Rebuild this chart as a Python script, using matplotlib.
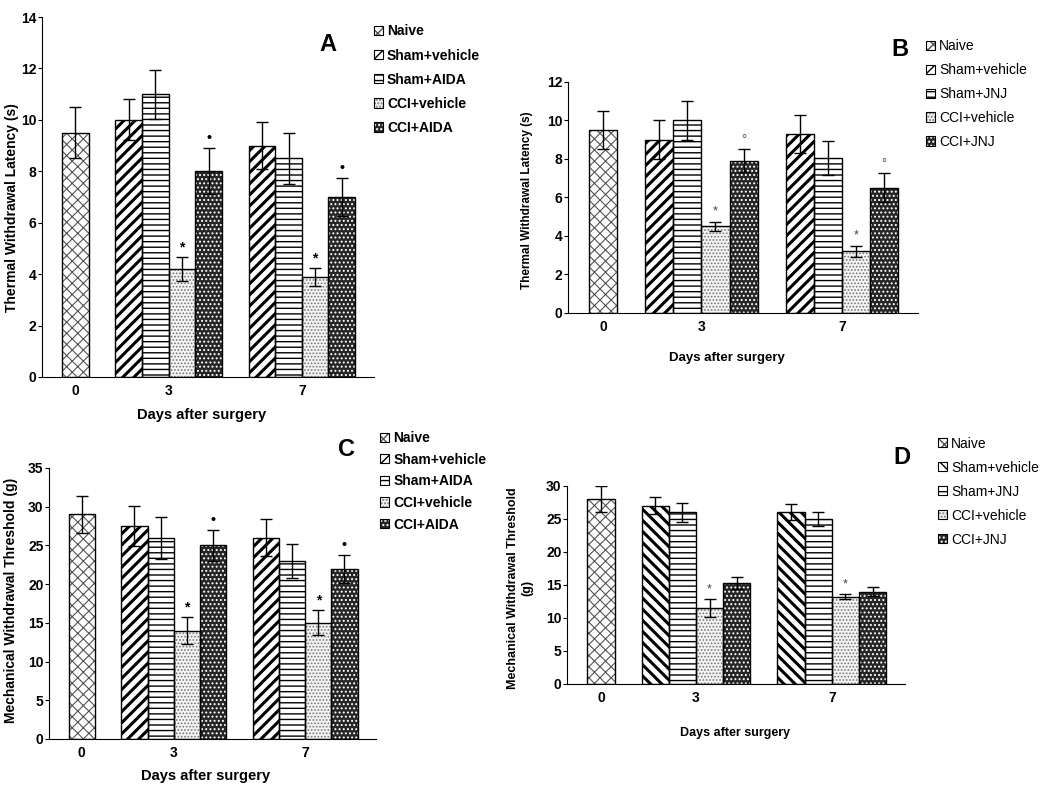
import numpy as np
import matplotlib
matplotlib.use("Agg")
import matplotlib.pyplot as plt
from matplotlib.patches import Patch

plt.rcParams['font.family'] = ['Liberation Sans', 'DejaVu Sans']

# Données (None = pas de barre ce jour-là)
days = ['0', '3', '7']
series_aida = ['Naive', 'Sham+vehicle', 'Sham+AIDA', 'CCI+vehicle', 'CCI+AIDA']
series_jnj = ['Naive', 'Sham+vehicle', 'Sham+JNJ', 'CCI+vehicle', 'CCI+JNJ']

# A : latence thermique, AIDA
thermal_aida_mean = [[9.5, None, None], [None, 10.0, 9.0], [None, 11.0, 8.5],
                     [None, 4.2, 3.9], [None, 8.0, 7.0]]
thermal_aida_err = [[1.0, None, None], [None, 0.8, 0.9], [None, 0.95, 1.0],
                    [None, 0.45, 0.35], [None, 0.9, 0.75]]
thermal_aida_mark = [['', '', ''], ['', '', ''], ['', '', ''],
                     ['', '*', '*'], ['', '•', '•']]

# B : latence thermique, JNJ
thermal_jnj_mean = [[9.5, None, None], [None, 9.0, 9.3], [None, 10.0, 8.05],
                    [None, 4.5, 3.2], [None, 7.9, 6.5]]
thermal_jnj_err = [[1.0, None, None], [None, 1.0, 1.0], [None, 1.0, 0.9],
                   [None, 0.25, 0.3], [None, 0.6, 0.75]]
thermal_jnj_mark = [['', '', ''], ['', '', ''], ['', '', ''],
                    ['', '*', '*'], ['', '°', '°']]

# C : seuil mécanique, AIDA
mech_aida_mean = [[29.0, None, None], [None, 27.5, 26.0], [None, 26.0, 23.0],
                  [None, 14.0, 15.0], [None, 25.0, 22.0]]
mech_aida_err = [[2.4, None, None], [None, 2.6, 2.4], [None, 2.7, 2.2],
                 [None, 1.7, 1.6], [None, 2.0, 1.8]]
mech_aida_mark = [['', '', ''], ['', '', ''], ['', '', ''],
                  ['', '*', '*'], ['', '•', '•']]

# D : seuil mécanique, JNJ
mech_jnj_mean = [[28.0, None, None], [None, 27.0, 26.0], [None, 26.0, 25.0],
                 [None, 11.5, 13.2], [None, 15.3, 14.0]]
mech_jnj_err = [[2.0, None, None], [None, 1.3, 1.2], [None, 1.4, 1.1],
                [None, 1.3, 0.4], [None, 0.85, 0.65]]
mech_jnj_mark = [['', '', ''], ['', '', ''], ['', '', ''],
                 ['', '*', '*'], ['', '', '']]


def make_styles(back):
    # face, hachure, couleur hachure, épaisseur hachure
    return [
        ('white', 'xxx', '#555555', 0.8),
        ('white', '\\\\\\' if back else '///', 'black', 2.2),
        ('white', '---', 'black', 1.0),
        ('#f4f4f4', '.....', '#777777', 0.8),
        ('#262626', '....', 'white', 0.9),
    ]


def hatched_bar(ax, x, h, style):
    face, hatch, hc, hlw = style
    ax.bar(x, h, width=1, color=face, edgecolor='none', zorder=2)
    with plt.rc_context({'hatch.linewidth': hlw}):
        b = ax.bar(x, h, width=1, color='none', edgecolor=hc, hatch=hatch,
                   linewidth=0, zorder=3)
    for p in b:
        if hasattr(p, 'set_hatch_linewidth'):
            p.set_hatch_linewidth(hlw)
    ax.bar(x, h, width=1, fill=False, edgecolor='black', linewidth=1, zorder=4)


def legend_handle(style):
    face, hatch, hc, hlw = style
    base = Patch(facecolor=face, edgecolor='none')
    with plt.rc_context({'hatch.linewidth': min(hlw, 1.0)}):
        hat = Patch(facecolor='none', edgecolor=hc, hatch=hatch, linewidth=0)
    out = Patch(facecolor='none', edgecolor='black', linewidth=0.8)
    return (base, hat, out)


def draw_panel(ax, means, errs, marks, styles, ymax, ystep, mark_bold):
    pos = 0
    centers = []
    for d in range(len(days)):
        xs = []
        for s in range(len(means)):
            h = means[s][d]
            if h is None:
                continue
            hatched_bar(ax, pos, h, styles[s])
            ax.errorbar(pos, h, yerr=errs[s][d], fmt='none', ecolor='black',
                        elinewidth=1, capsize=4, capthick=1, zorder=5)
            if marks[s][d]:
                ax.annotate(marks[s][d], (pos, h + errs[s][d]), xytext=(0, 7),
                            textcoords='offset points', ha='center', va='center',
                            fontsize=10 if mark_bold else 9,
                            fontweight='bold' if mark_bold else 'normal',
                            color='black' if mark_bold else '#444444')
            xs.append(pos)
            pos += 1
        centers.append(np.mean(xs))
        pos += 1
    ax.set_xlim(-1.25, 11.2)
    ax.set_ylim(0, ymax)
    ax.set_yticks(np.arange(0, ymax + 0.1, ystep))
    ax.set_xticks(centers)
    ax.set_xticklabels(days)
    for sp in ['top', 'right']:
        ax.spines[sp].set_visible(False)
    ax.tick_params(axis='x', length=0, pad=5)
    ax.tick_params(axis='y', length=3, pad=1)
    for lab in ax.get_xticklabels() + ax.get_yticklabels():
        lab.set_fontweight('bold')
        lab.set_fontsize(10)


fig = plt.figure(figsize=(10.5, 7.88), dpi=100)

axA = fig.add_axes([0.040, 0.5216, 0.316, 0.4568])
axB = fig.add_axes([0.541, 0.6028, 0.333, 0.2932])
axC = fig.add_axes([0.0467, 0.0622, 0.3114, 0.3439])
axD = fig.add_axes([0.540, 0.132, 0.322, 0.2513])

stA = make_styles(False)
stD = make_styles(True)

draw_panel(axA, thermal_aida_mean, thermal_aida_err, thermal_aida_mark, stA, 14, 2, True)
draw_panel(axB, thermal_jnj_mean, thermal_jnj_err, thermal_jnj_mark, stA, 12, 2, False)
draw_panel(axC, mech_aida_mean, mech_aida_err, mech_aida_mark, stA, 35, 5, True)
draw_panel(axD, mech_jnj_mean, mech_jnj_err, mech_jnj_mark, stD, 30, 5, False)

# titres des axes
axA.set_ylabel('Thermal Withdrawal Latency (s)', fontsize=10, fontweight='bold')
axA.yaxis.set_label_coords(-0.07, 0.47)
axA.set_xlabel('Days after surgery', fontsize=10.5, fontweight='bold')
axA.xaxis.set_label_coords(0.48, -0.086)

axB.set_ylabel('Thermal Withdrawal Latency (s)', fontsize=8.5, fontweight='bold')
axB.yaxis.set_label_coords(-0.10, 0.49)
axB.set_xlabel('Days after surgery', fontsize=9.5, fontweight='bold')
axB.xaxis.set_label_coords(0.454, -0.17)

axC.set_ylabel('Mechanical Withdrawal Threshold (g)', fontsize=10, fontweight='bold')
axC.yaxis.set_label_coords(-0.095, 0.51)
axC.set_xlabel('Days after surgery', fontsize=10.5, fontweight='bold')
axC.xaxis.set_label_coords(0.48, -0.11)

axD.set_ylabel('Mechanical Withdrawal Threshold\n(g)', fontsize=9, fontweight='bold')
axD.yaxis.set_label_coords(-0.10, 0.485)
axD.set_xlabel('Days after surgery', fontsize=9, fontweight='bold')
axD.xaxis.set_label_coords(0.497, -0.217)

# lettres des panneaux
for lbl, x, y in [('A', 0.312, 0.943), ('B', 0.857, 0.937),
                  ('C', 0.330, 0.429), ('D', 0.859, 0.419)]:
    fig.text(x, y, lbl, fontsize=17, fontweight='bold', ha='center', va='center')

# légendes
def add_legend(names, styles, anchor, bold, spacing):
    fig.legend([legend_handle(s) for s in styles], names, loc='upper left',
               bbox_to_anchor=anchor, frameon=False, borderpad=0, borderaxespad=0,
               handlelength=0.65, handleheight=0.65, handletextpad=0.3,
               labelspacing=spacing,
               prop={'size': 10, 'weight': 'bold' if bold else 'normal'})

add_legend(series_aida, stA, (0.356, 0.969), True, 0.73)
add_legend(series_jnj, stA, (0.882, 0.950), False, 0.71)
add_legend(series_aida, stA, (0.362, 0.453), True, 0.55)
add_legend(series_jnj, stD, (0.893, 0.446), False, 0.72)

fig.savefig('out.png', dpi=100)
